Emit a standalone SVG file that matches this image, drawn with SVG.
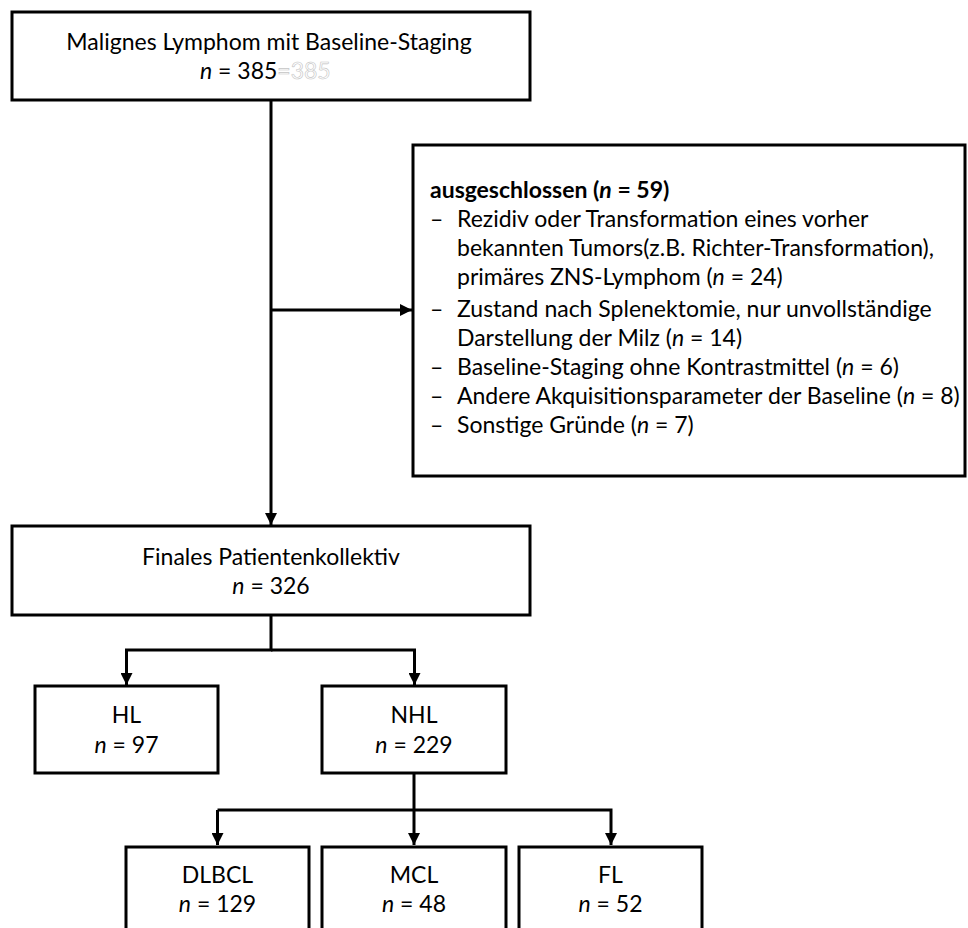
<svg xmlns="http://www.w3.org/2000/svg" width="968" height="928" viewBox="0 0 968 928">
<defs>
<style>
.box{fill:#fff;stroke:#000;stroke-width:3}
.t{font-family:Lato,"Liberation Sans",sans-serif;font-size:23px;fill:#000}
.c{text-anchor:middle}
.b{font-weight:bold}
.i{font-style:italic}
.ghost{fill:#fff;stroke:#c4c4c4;stroke-width:0.6}
.conn{fill:none;stroke:#000;stroke-width:3}
</style>
<marker id="ah" markerUnits="userSpaceOnUse" markerWidth="12" markerHeight="12" refX="12" refY="6" orient="auto">
<path d="M0,0 L12,6 L0,12 z" fill="#000"/>
</marker>
</defs>
<rect width="968" height="928" fill="#fff"/>
<g id="connectors">
<path class="conn" d="M271,100 V525" marker-end="url(#ah)"/>
<path class="conn" d="M271,310 H412" marker-end="url(#ah)"/>
<path class="conn" d="M271,615 V650 H126.5 V685" marker-end="url(#ah)"/>
<path class="conn" d="M271,650 H414.5 V685" marker-end="url(#ah)"/>
<path class="conn" d="M414,773 V845" marker-end="url(#ah)"/>
<path class="conn" d="M217.5,810 H611 V845" marker-end="url(#ah)"/>
<path class="conn" d="M217.5,810 V845" marker-end="url(#ah)"/>
</g>
<g id="n1">
<rect class="box" x="12" y="12" width="518" height="88"/>
<text class="t c" x="269" y="50">Malignes Lymphom mit Baseline-Staging</text>
<text class="t" x="200" y="79"><tspan class="i">n</tspan> = 385<tspan class="ghost">=385</tspan></text>
</g>
<g id="n2">
<rect class="box" x="413" y="145" width="552" height="331"/>
<text class="t b" x="430" y="198">ausgeschlossen (<tspan class="i">n</tspan> = 59)</text>
<text class="t" x="430" y="227">–</text>
<text class="t" x="457" y="227">Rezidiv oder Transformation eines vorher</text>
<text class="t" x="457" y="256">bekannten Tumors(z.B. Richter-Transformation),</text>
<text class="t" x="457" y="285">primäres ZNS-Lymphom (<tspan class="i">n</tspan> = 24)</text>
<text class="t" x="430" y="317">–</text>
<text class="t" x="457" y="317">Zustand nach Splenektomie, nur unvollständige</text>
<text class="t" x="457" y="346">Darstellung der Milz (<tspan class="i">n</tspan> = 14)</text>
<text class="t" x="430" y="375">–</text>
<text class="t" x="457" y="375">Baseline-Staging ohne Kontrastmittel (<tspan class="i">n</tspan> = 6)</text>
<text class="t" x="430" y="404">–</text>
<text class="t" x="457" y="404">Andere Akquisitionsparameter der Baseline (<tspan class="i">n</tspan> = 8)</text>
<text class="t" x="430" y="433">–</text>
<text class="t" x="457" y="433">Sonstige Gründe (<tspan class="i">n</tspan> = 7)</text>
</g>
<g id="n3">
<rect class="box" x="12" y="526" width="518" height="89"/>
<text class="t c" x="271" y="565">Finales Patientenkollektiv</text>
<text class="t c" x="271" y="594"><tspan class="i">n</tspan> = 326</text>
</g>
<g id="n4">
<rect class="box" x="35" y="686" width="183" height="87"/>
<text class="t c" x="126.5" y="723">HL</text>
<text class="t c" x="126.5" y="753"><tspan class="i">n</tspan> = 97</text>
</g>
<g id="n5">
<rect class="box" x="322" y="686" width="184" height="87"/>
<text class="t c" x="414" y="723">NHL</text>
<text class="t c" x="414" y="753"><tspan class="i">n</tspan> = 229</text>
</g>
<g id="n6">
<rect class="box" x="126" y="847" width="183" height="100"/>
<text class="t c" x="217.5" y="883">DLBCL</text>
<text class="t c" x="217.5" y="912"><tspan class="i">n</tspan> = 129</text>
</g>
<g id="n7">
<rect class="box" x="322" y="847" width="184" height="100"/>
<text class="t c" x="414" y="883">MCL</text>
<text class="t c" x="414" y="912"><tspan class="i">n</tspan> = 48</text>
</g>
<g id="n8">
<rect class="box" x="519" y="847" width="183" height="100"/>
<text class="t c" x="610.5" y="883">FL</text>
<text class="t c" x="610.5" y="912"><tspan class="i">n</tspan> = 52</text>
</g>
</svg>
